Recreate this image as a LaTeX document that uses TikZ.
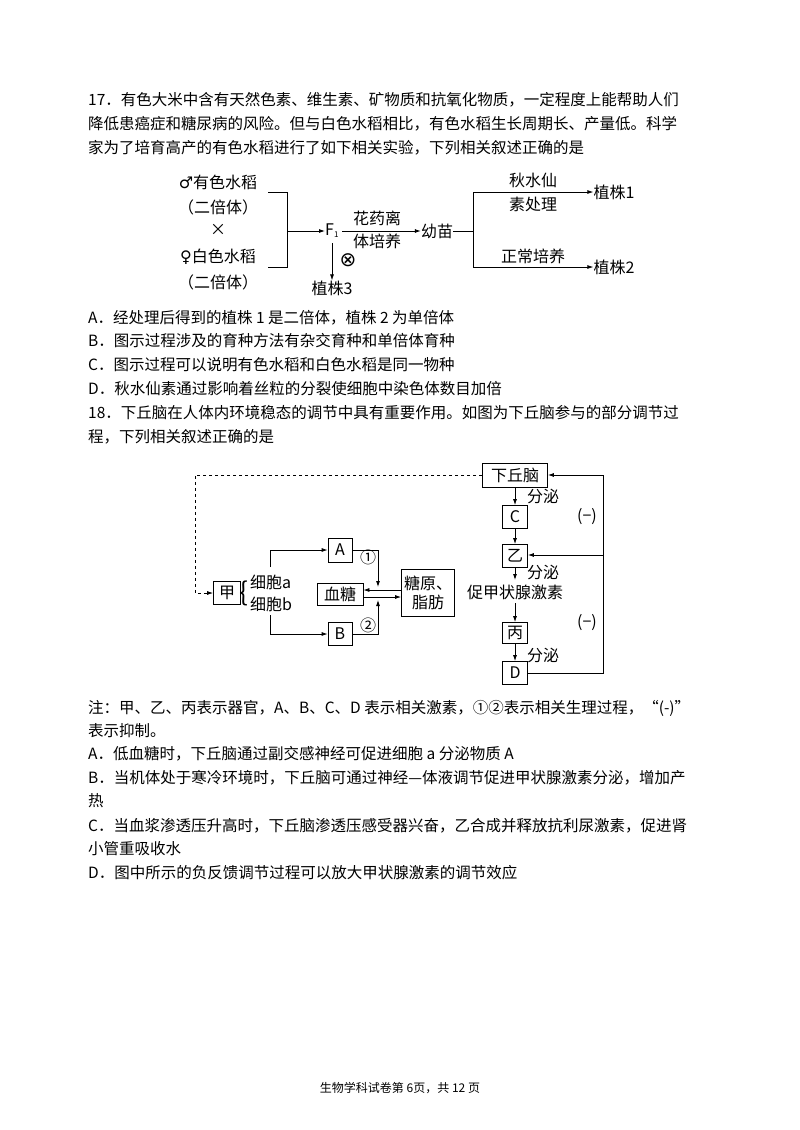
\documentclass[tikz,border=0pt]{standalone}
\usepackage{fontspec}
\setmainfont{Noto Sans CJK SC}
\newfontfamily\dv{DejaVu Sans}
\usetikzlibrary{arrows.meta}
\begin{document}
\begin{tikzpicture}[x=1pt,y=-1pt,
  txt/.style={anchor=west,inner sep=0pt,font=\fontsize{15.5}{18}\selectfont},
  lb/.style={inner sep=0pt,font=\fontsize{16}{19}\selectfont},
  bx/.style={draw,line width=0.8pt,inner sep=0pt,font=\fontsize{16}{19}\selectfont},
  ln/.style={line width=0.8pt},
  ar/.style={line width=0.8pt,-{Latex[length=6pt,width=4pt]}}]
\useasboundingbox (0,0) rectangle (800,1130);
\fill[white] (0,0) rectangle (800,1130);
% text
\node[txt] (t1) at (88,100) {17．有色大米中含有天然色素、维生素、矿物质和抗氧化物质，一定程度上能帮助人们};
\node[txt] (t2) at (88,124) {降低患癌症和糖尿病的风险。但与白色水稻相比，有色水稻生长周期长、产量低。科学};
\node[txt] (t3) at (88,148) {家为了培育高产的有色水稻进行了如下相关实验，下列相关叙述正确的是};
\node[txt] (qa) at (88,318) {A．经处理后得到的植株 1 是二倍体，植株 2 为单倍体};
\node[txt] (qb) at (88,341) {B．图示过程涉及的育种方法有杂交育种和单倍体育种};
\node[txt] (qc) at (88,365) {C．图示过程可以说明有色水稻和白色水稻是同一物种};
\node[txt] (qd) at (88,389) {D．秋水仙素通过影响着丝粒的分裂使细胞中染色体数目加倍};
\node[txt] (s1) at (88,413) {18．下丘脑在人体内环境稳态的调节中具有重要作用。如图为下丘脑参与的部分调节过};
\node[txt] (s2) at (88,437) {程，下列相关叙述正确的是};
\node[txt] (n1) at (88,708) {注：甲、乙、丙表示器官，A、B、C、D 表示相关激素，①②表示相关生理过程，“(-)”};
\node[txt] (n2) at (88,731) {表示抑制。};
\node[txt] (ra) at (88,754) {A．低血糖时，下丘脑通过副交感神经可促进细胞 a 分泌物质 A};
\node[txt] (rb) at (88,778) {B．当机体处于寒冷环境时，下丘脑可通过神经—体液调节促进甲状腺激素分泌，增加产};
\node[txt] (rb2) at (88,801) {热};
\node[txt] (rc) at (88,826) {C．当血浆渗透压升高时，下丘脑渗透压感受器兴奋，乙合成并释放抗利尿激素，促进肾};
\node[txt] (rc2) at (88,849) {小管重吸收水};
\node[txt] (rd) at (88,873) {D．图中所示的负反馈调节过程可以放大甲状腺激素的调节效应};
\node[inner sep=0pt,font=\fontsize{12}{14}\selectfont] (ft) at (400,1088) {生物学科试卷第 6页，共 12 页};
% diagram 1
\node[lb] (m1) at (218,182) {{\dv ♂}有色水稻};
\node[lb] (m2) at (218,207) {（二倍体）};
\node[lb] (x) at (218,230) {×};
\node[lb] (f1) at (218,257) {{\dv ♀}白色水稻};
\node[lb] (f2) at (218,282) {（二倍体）};
\coordinate (b1) at (268,192); \coordinate (b2) at (268,267);
\draw[ln] (b1) -- (287,192) -- (287,267) -- (b2);
\node[lb,anchor=west] (F) at (325,231) {F\raisebox{-2pt}{\fontsize{8}{8}\selectfont 1}};
\draw[ar] (287,231) -- (F.west);
\node[lb] (ym) at (437,231) {幼苗};
\draw[ar] (342,231) -- (ym.west);
\node[lb] (h1) at (377,218) {花药离};
\node[lb] (h2) at (377,241) {体培养};
\draw[ln] (ym.east) -- (473,231);
\draw[ln] (473,192) -- (473,267);
\node[lb] (p1) at (614,192) {植株1};
\node[lb] (p2) at (614,267) {植株2};
\draw[ar] (473,192) -- (p1.west);
\draw[ar] (473,267) -- (p2.west);
\node[lb] (q1) at (533,180) {秋水仙};
\node[lb] (q2) at (533,204) {素处理};
\node[lb] (q3) at (533,256) {正常培养};
\node[lb] (p3) at (332,288) {植株3};
\draw[ar] (332,243) -- (p3.north);
\node[inner sep=0pt,font=\dv\fontsize{20}{20}\selectfont] (ot) at (348,260) {⊗};
% diagram 2
\node[bx,minimum width=65pt,minimum height=24pt] (hyp) at (515,475) {下丘脑};
\node[bx,minimum width=27pt,minimum height=23pt] (jia) at (227,593) {甲};
\node[lb,anchor=west] (br) at (239,593) {\fontsize{26}{26}\selectfont\{};
\node[lb,anchor=west] (ca) at (250,582) {细胞a};
\node[lb,anchor=west] (cb) at (250,604) {细胞b};
\node[bx,minimum width=24pt,minimum height=24pt] (A) at (340,550) {A};
\node[bx,minimum width=24pt,minimum height=23pt] (B) at (340,634) {B};
\node[bx,minimum width=46pt,minimum height=22pt] (xt) at (340,594) {血糖};
\node[bx,minimum width=53pt,minimum height=47pt,align=center] (tz) at (428,593) {糖原、\\脂肪};
\node[bx,minimum width=25pt,minimum height=23pt] (C) at (515,517) {C};
\node[bx,minimum width=25pt,minimum height=23pt] (Y) at (515,556) {乙};
\node[bx,minimum width=25pt,minimum height=21pt] (Bi) at (515,633) {丙};
\node[bx,minimum width=25pt,minimum height=23pt] (D) at (515,673) {D};
\node[lb] (tsh) at (515,592) {促甲状腺激素};
\node[lb] (fm1) at (543,496) {分泌};
\node[lb] (fm2) at (543,572) {分泌};
\node[lb] (fm3) at (543,655) {分泌};
\node[lb] (o1) at (368,557) {①};
\node[lb] (o2) at (368,625) {②};
\node[lb] (neg1) at (587,517) {(−)};
\node[lb] (neg2) at (587,623) {(−)};
\draw[ar,dashed] (hyp.west) -- (195,475) -- (195,593) -- (jia.west);
\draw[ar] (270,567) -- (270,550) -- (A.west);
\draw[ar] (270,615) -- (270,634) -- (B.west);
\draw[ar] (A.east) -- (378,550) -- (378,587);
\draw[ar] (B.east) -- (378,634) -- (378,600);
\draw[ar] (tz.west |- 0,590) -- (xt.east |- 0,590);
\draw[ar] (xt.east |- 0,597) -- (tz.west |- 0,597);
\draw[ar] (hyp.south) -- (C.north);
\draw[ar] (C.south) -- (Y.north);
\draw[ar] (Y.south) -- (515,580);
\draw[ar] (515,603) -- (Bi.north);
\draw[ar] (Bi.south) -- (D.north);
\draw[ln] (D.east) -- (603,673) -- (603,475);
\draw[ar] (603,475) -- (hyp.east);
\draw[ar] (603,555) -- (Y.east |- 0,555);
\end{tikzpicture}
\end{document}
